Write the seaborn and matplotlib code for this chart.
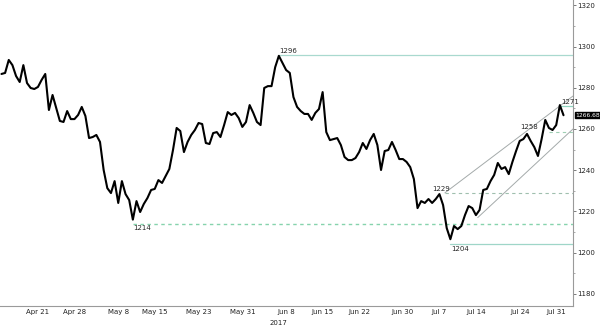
import numpy as np
import pandas as pd
import matplotlib
matplotlib.use("Agg")
import matplotlib.pyplot as plt
import matplotlib.transforms as mtransforms
import seaborn as sns

# ---- data -------------------------------------------------------------
start_date = "2017-04-14"          # first trading day shown
bars_per_day = 2                   # half-day bars

prices = [
    1286.7, 1287.2, 1293.5, 1291.0, 1285.7, 1282.8, 1291.0, 1282.3, 1279.9, 1279.4,
    1280.4, 1283.8, 1286.7, 1269.2, 1276.5, 1270.2, 1263.9, 1263.4, 1268.7, 1264.8,
    1264.8, 1266.8, 1270.7, 1266.3, 1255.6, 1256.1, 1257.1, 1253.7, 1240.1, 1231.3,
    1228.9, 1234.7, 1224.1, 1234.7, 1228.4, 1225.5, 1216.0, 1225.0, 1219.7, 1223.6,
    1226.5, 1230.4, 1230.9, 1235.2, 1233.8, 1237.2, 1240.6, 1249.8, 1260.5, 1259.0,
    1248.8, 1253.7, 1257.1, 1259.5, 1262.9, 1262.4, 1253.2, 1252.7, 1258.0, 1258.5,
    1256.1, 1261.9, 1268.2, 1266.8, 1267.8, 1265.3, 1261.0, 1263.4, 1271.6, 1267.8,
    1263.4, 1261.9, 1279.9, 1280.8, 1280.8, 1290.0, 1295.5, 1292.0, 1288.6, 1287.2,
    1275.5, 1270.7, 1268.7, 1267.3, 1267.3, 1264.4, 1267.8, 1269.7, 1277.9, 1258.5,
    1254.6, 1255.1, 1255.6, 1252.2, 1246.4, 1244.9, 1244.9, 1245.9, 1248.8, 1253.2,
    1250.3, 1254.6, 1257.6, 1252.2, 1240.1, 1249.3, 1249.8, 1253.7, 1249.8, 1245.4,
    1245.4, 1244.0, 1241.5, 1235.7, 1221.6, 1225.0, 1224.1, 1226.0, 1224.1, 1226.0,
    1228.4, 1223.1, 1211.9, 1206.5, 1212.9, 1211.4, 1212.9, 1218.2, 1222.6, 1221.6,
    1218.2, 1220.7, 1230.4, 1230.9, 1234.7, 1237.7, 1243.5, 1240.6, 1241.5, 1238.1,
    1244.0, 1249.3, 1254.2, 1255.1, 1257.6, 1254.2, 1251.2, 1246.9, 1255.1, 1264.4,
    1260.5, 1259.5, 1261.9, 1271.6, 1266.68,
]
last_price = 1266.68

tick_dates = ["2017-04-21", "2017-04-28", "2017-05-08", "2017-05-15", "2017-05-23",
              "2017-05-31", "2017-06-08", "2017-06-15", "2017-06-22", "2017-06-30",
              "2017-07-07", "2017-07-14", "2017-07-24", "2017-07-31"]
tick_labels = ["Apr 21", "Apr 28", "May 8", "May 15", "May 23", "May 31", "Jun 8",
               "Jun 15", "Jun 22", "Jun 30", "Jul 7", "Jul 14", "Jul 24", "Jul 31"]
year_label = "2017"
y_ticks = [1180, 1200, 1220, 1240, 1260, 1280, 1300, 1320]

# horizontal levels: label, price, starting bar
level_labels = ["1296", "1214", "1229", "1204", "1258", "1271"]
level_values = [1296, 1214, 1229, 1204, 1258.7, 1271]
level_start_bar = [76, 36, 121.5, 123, 150, 153]

# trend channel: (start bar, start price) -> (end bar, end price)
channel_upper = [(121.5, 1229), (156.6, 1276)]
channel_lower = [(130.5, 1217), (156.6, 1260)]

# ---- positions -----------------------------------------------------------
bdays = pd.bdate_range(start_date, periods=90)
day0 = bdays.get_loc(pd.Timestamp("2017-04-21"))

def bar_to_t(b):
    return np.asarray(b, dtype=float) / bars_per_day - day0

t = bar_to_t(np.arange(len(prices)))
df = pd.DataFrame({"t": t, "price": prices})
tick_pos = [bdays.get_loc(pd.Timestamp(d)) - day0 for d in tick_dates]

# ---- figure --------------------------------------------------------------
sns.set_style("white")
plt.rcParams["font.family"] = ["DejaVu Sans"]

fig = plt.figure(figsize=(6.0, 3.29), dpi=100)
ax = fig.add_axes([0.0, 0.070, 0.955, 0.930])

sns.lineplot(data=df, x="t", y="price", ax=ax, color="black", linewidth=1.5,
             estimator=None, sort=False)

xmin, xmax = -5.2, 73.3
ax.set_xlim(xmin, xmax)
ax.set_ylim(1174.1, 1322.6)

# levels
styles = {
    "1296": dict(color="#a9d9cf", ls="-", lw=0.9),
    "1214": dict(color="#86d3ad", ls=(0, (2.5, 2.5)), lw=1.0),
    "1229": dict(color="#9fbfae", ls=(0, (3, 3)), lw=0.8),
    "1204": dict(color="#9fd6c8", ls="-", lw=0.9),
    "1258": dict(color="#9fcfb4", ls=(0, (3, 3)), lw=0.8),
    "1271": dict(color="#8fd4bf", ls="-", lw=0.9),
}
for lab, val, sb in zip(level_labels, level_values, level_start_bar):
    ax.plot([bar_to_t(sb), xmax], [val, val], **styles[lab], zorder=1)

for seg in (channel_upper, channel_lower):
    (b0, p0), (b1, p1) = seg
    ax.plot([bar_to_t(b0), bar_to_t(b1)], [p0, p1], color="#a4aaaa", lw=0.7, zorder=1)

fs = 5
ax.text(bar_to_t(76), 1296.6, "1296", fontsize=fs, ha="left", va="bottom")
ax.text(bar_to_t(36), 1213.2, "1214", fontsize=fs, ha="left", va="top")
ax.text(bar_to_t(120.5), 1229.6, "1229", fontsize=fs, ha="center", va="bottom")
ax.text(bar_to_t(123.2), 1203.2, "1204", fontsize=fs, ha="left", va="top")
ax.text(bar_to_t(144.5), 1259.6, "1258", fontsize=fs, ha="center", va="bottom")
ax.text(bar_to_t(153.3), 1271.6, "1271", fontsize=fs, ha="left", va="bottom")

# axes styling
for s in ["top", "left"]:
    ax.spines[s].set_visible(False)
for s in ["right", "bottom"]:
    ax.spines[s].set_color("#9a9a9a")
    ax.spines[s].set_linewidth(0.8)

ax.yaxis.tick_right()
ax.set_yticks(y_ticks)
ax.set_yticklabels([str(v) for v in y_ticks])
ax.set_yticks(np.arange(1180, 1330, 10), minor=True)
ax.tick_params(axis="y", which="major", labelsize=fs, length=2, width=0.6,
               color="#666666", pad=1, labelcolor="#222222")
ax.tick_params(axis="y", which="minor", length=1.5, width=0.5, color="#888888")

ax.set_xticks(tick_pos)
ax.set_xticklabels(tick_labels)
ax.set_xticks(np.arange(-5, 74, 1), minor=True)
ax.tick_params(axis="x", which="major", labelsize=fs, length=2, width=0.6,
               color="#666666", pad=2, direction="in", labelcolor="#222222")
ax.tick_params(axis="x", which="minor", length=1.5, width=0.5, color="#888888",
               direction="in")
ax.set_xlabel("")
ax.set_ylabel("")

trans = mtransforms.blended_transform_factory(ax.transData, ax.transAxes)
ax.text(tick_pos[6] - 1.0, -0.045, year_label, fontsize=fs, ha="center", va="top",
        transform=trans, color="#222222")

trans_y = mtransforms.blended_transform_factory(ax.transAxes, ax.transData)
ax.text(1.004, last_price, f"{last_price:.2f}", fontsize=4.3, color="white",
        ha="left", va="center", transform=trans_y,
        bbox=dict(boxstyle="square,pad=0.12", fc="black", ec="black"))

fig.savefig("out.png", dpi=100)
